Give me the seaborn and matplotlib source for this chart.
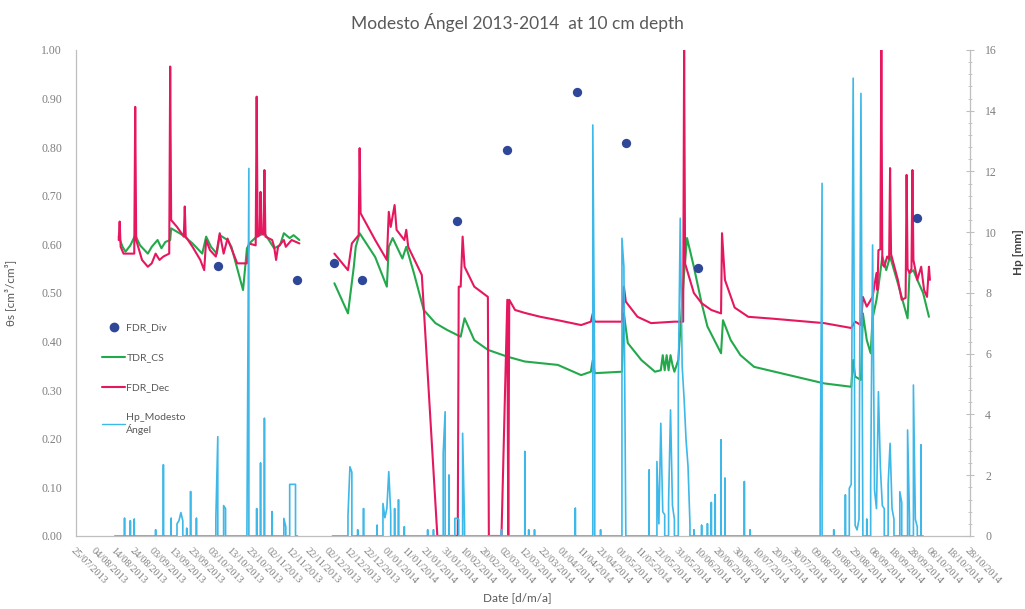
import pandas as pd
import numpy as np
import matplotlib
matplotlib.use('Agg')
import matplotlib.pyplot as plt
from matplotlib.lines import Line2D
from matplotlib.ticker import MultipleLocator, FormatStrFormatter
import seaborn as sns

# ---- data ----
# FDR_Dec (red), two logging periods
dec_dates_1 = ['2013-08-16', '2013-08-16 12:00', '2013-08-17', '2013-08-18 12:00', '2013-08-24',
               '2013-08-24 12:00', '2013-08-25', '2013-08-28', '2013-08-31', '2013-09-02',
               '2013-09-04', '2013-09-06', '2013-09-08', '2013-09-11', '2013-09-11 12:00',
               '2013-09-12', '2013-09-15', '2013-09-18 12:00', '2013-09-19', '2013-09-19 12:00',
               '2013-09-23', '2013-09-27', '2013-09-29', '2013-09-30', '2013-10-02',
               '2013-10-05', '2013-10-07', '2013-10-09', '2013-10-11', '2013-10-16',
               '2013-10-21', '2013-10-22', '2013-10-25 12:00', '2013-10-26', '2013-10-26 12:00',
               '2013-10-27 12:00', '2013-10-28', '2013-10-28 12:00', '2013-10-29 12:00', '2013-10-30',
               '2013-10-30 12:00', '2013-11-03', '2013-11-04', '2013-11-05', '2013-11-06',
               '2013-11-09', '2013-11-10', '2013-11-13', '2013-11-17']
dec_vals_1 = [0.609, 0.647, 0.595, 0.581, 0.581,
              0.883, 0.609, 0.568, 0.554, 0.561,
              0.581, 0.568, 0.575, 0.581, 0.966,
              0.650, 0.636, 0.616, 0.678, 0.616,
              0.595, 0.568, 0.547, 0.609, 0.588,
              0.575, 0.623, 0.581, 0.612, 0.561,
              0.561, 0.602, 0.598, 0.904, 0.616,
              0.620, 0.708, 0.623, 0.620, 0.753,
              0.616, 0.609, 0.595, 0.568, 0.595,
              0.609, 0.595, 0.609, 0.602]

dec_dates_2 = ['2013-12-05', '2013-12-12', '2013-12-14', '2013-12-17 12:00', '2013-12-18',
               '2013-12-18 12:00', '2013-12-26', '2014-01-01', '2014-01-02', '2014-01-03',
               '2014-01-05', '2014-01-06', '2014-01-10', '2014-01-11', '2014-01-12',
               '2014-01-19', '2014-01-27', '2014-02-06 12:00', '2014-02-07', '2014-02-08',
               '2014-02-09', '2014-02-10', '2014-02-15', '2014-02-22', '2014-02-22 12:00',
               '2014-03-01', '2014-03-04', '2014-03-04 12:00', '2014-03-05', '2014-03-08',
               '2014-03-13', '2014-03-21', '2014-03-30', '2014-04-11', '2014-04-16',
               '2014-04-17', '2014-04-18', '2014-05-02', '2014-05-03', '2014-05-04',
               '2014-05-10', '2014-05-17', '2014-05-29', '2014-06-02 12:00', '2014-06-03',
               '2014-06-03 12:00', '2014-06-04', '2014-06-08', '2014-06-12', '2014-06-17',
               '2014-06-22', '2014-06-22 12:00', '2014-06-24', '2014-06-29', '2014-07-06',
               '2014-07-19', '2014-08-14', '2014-08-28', '2014-08-30', '2014-09-02',
               '2014-09-03', '2014-09-05', '2014-09-08', '2014-09-10', '2014-09-10 12:00',
               '2014-09-11', '2014-09-12', '2014-09-12 12:00', '2014-09-13', '2014-09-14',
               '2014-09-15 12:00', '2014-09-16 12:00', '2014-09-17', '2014-09-17 12:00', '2014-09-21',
               '2014-09-23', '2014-09-25', '2014-09-25 12:00', '2014-09-26', '2014-09-27',
               '2014-09-28', '2014-09-28 12:00', '2014-09-29', '2014-10-01', '2014-10-03',
               '2014-10-04 12:00', '2014-10-06', '2014-10-07', '2014-10-07 12:00']
dec_vals_2 = [0.581, 0.547, 0.602, 0.619, 0.798,
              0.664, 0.609, 0.568, 0.667, 0.636,
              0.681, 0.630, 0.609, 0.630, 0.595,
              0.537, 0.000, 0.000, 0.513, 0.513,
              0.616, 0.554, 0.513, 0.492, 0.000,
              0.000, 0.486, 0.000, 0.486, 0.465,
              0.459, 0.451, 0.444, 0.434, 0.441,
              0.458, 0.441, 0.441, 0.513, 0.482,
              0.451, 0.438, 0.441, 0.441, 1.000,
              0.560, 0.554, 0.500, 0.479, 0.465,
              0.458, 0.623, 0.527, 0.470, 0.451,
              0.447, 0.438, 0.428, 0.441, 0.434,
              0.492, 0.472, 0.492, 0.541, 0.506,
              0.588, 0.590, 1.000, 0.560, 0.554,
              0.575, 0.570, 0.757, 0.580, 0.527,
              0.486, 0.490, 0.743, 0.550, 0.541,
              0.550, 0.753, 0.568, 0.527, 0.554,
              0.506, 0.492, 0.554, 0.527]

# TDR_CS (green)
cs_dates_1 = ['2013-08-16', '2013-08-18', '2013-08-19 12:00', '2013-08-22', '2013-08-24 12:00',
              '2013-08-27', '2013-08-31', '2013-09-02', '2013-09-05', '2013-09-07',
              '2013-09-09', '2013-09-11 12:00', '2013-09-12', '2013-09-15', '2013-09-18',
              '2013-09-23', '2013-09-28', '2013-09-30', '2013-10-02 12:00', '2013-10-05 12:00',
              '2013-10-07', '2013-10-11', '2013-10-13', '2013-10-19', '2013-10-21',
              '2013-10-23', '2013-10-26', '2013-10-30', '2013-11-04', '2013-11-07',
              '2013-11-09', '2013-11-12', '2013-11-14', '2013-11-17']
cs_vals_1 = [0.616, 0.595, 0.585, 0.598, 0.619,
             0.598, 0.581, 0.595, 0.609, 0.592,
             0.605, 0.609, 0.633, 0.626, 0.619,
             0.602, 0.581, 0.616, 0.595, 0.581,
             0.619, 0.609, 0.595, 0.506, 0.592,
             0.605, 0.616, 0.623, 0.592, 0.598,
             0.623, 0.613, 0.619, 0.609]

cs_dates_2 = ['2013-12-05', '2013-12-12', '2013-12-15', '2013-12-16', '2013-12-18',
              '2013-12-26', '2014-01-01', '2014-01-02', '2014-01-04', '2014-01-09',
              '2014-01-11', '2014-01-15', '2014-01-20', '2014-01-26', '2014-02-01',
              '2014-02-08', '2014-02-10', '2014-02-15', '2014-02-22', '2014-03-04',
              '2014-03-13', '2014-03-30', '2014-04-11', '2014-04-16', '2014-04-17',
              '2014-04-18', '2014-05-02', '2014-05-03', '2014-05-05', '2014-05-12',
              '2014-05-19', '2014-05-22', '2014-05-23', '2014-05-24', '2014-05-25',
              '2014-05-26', '2014-05-27', '2014-05-28', '2014-05-29', '2014-05-31',
              '2014-06-03', '2014-06-04 12:00', '2014-06-08', '2014-06-12', '2014-06-15',
              '2014-06-22', '2014-06-23', '2014-06-27', '2014-07-02', '2014-07-09',
              '2014-08-14', '2014-08-28', '2014-08-29', '2014-08-30', '2014-09-02',
              '2014-09-03', '2014-09-05', '2014-09-07', '2014-09-08', '2014-09-10',
              '2014-09-11', '2014-09-13', '2014-09-15', '2014-09-17', '2014-09-21',
              '2014-09-26', '2014-09-27', '2014-09-29', '2014-10-01', '2014-10-04',
              '2014-10-07']
cs_vals_2 = [0.520, 0.458, 0.554, 0.595, 0.623,
             0.574, 0.513, 0.595, 0.613, 0.571,
             0.595, 0.540, 0.465, 0.438, 0.424,
             0.410, 0.448, 0.403, 0.383, 0.369,
             0.359, 0.352, 0.331, 0.338, 0.362,
             0.335, 0.338, 0.458, 0.397, 0.362,
             0.338, 0.341, 0.372, 0.341, 0.372,
             0.341, 0.372, 0.352, 0.338, 0.362,
             0.541, 0.613, 0.554, 0.479, 0.431,
             0.376, 0.444, 0.403, 0.372, 0.348,
             0.314, 0.307, 0.362, 0.328, 0.321,
             0.458, 0.403, 0.376, 0.448, 0.486,
             0.513, 0.575, 0.547, 0.575, 0.520,
             0.448, 0.541, 0.547, 0.527, 0.500,
             0.451]

# FDR_Div (dots)
div_dates = ['2013-10-06', '2013-11-16', '2013-12-05', '2013-12-19', '2014-02-06',
             '2014-03-04', '2014-04-09', '2014-05-04', '2014-06-10', '2014-10-01']
div_vals = [0.556, 0.527, 0.561, 0.527, 0.648, 0.794, 0.914, 0.808, 0.551, 0.654]

# Hp_Modesto Ángel, daily rain [mm]; days not listed had 0 mm
hp_periods = [('2013-08-14', '2013-11-16'), ('2013-12-04', '2014-10-04')]
hp_dates = ['2013-08-19', '2013-08-22', '2013-08-24', '2013-09-04', '2013-09-08',
            '2013-09-12', '2013-09-15', '2013-09-16', '2013-09-17', '2013-09-18',
            '2013-09-20', '2013-09-22', '2013-09-25', '2013-10-05', '2013-10-06',
            '2013-10-09', '2013-10-10', '2013-10-21', '2013-10-22', '2013-10-26',
            '2013-10-28', '2013-10-30', '2013-11-03', '2013-11-09', '2013-11-10',
            '2013-11-12', '2013-11-13', '2013-11-14', '2013-11-15',
            '2013-12-12', '2013-12-13', '2013-12-14', '2013-12-17', '2013-12-20',
            '2013-12-27', '2013-12-30', '2013-12-31', '2014-01-01', '2014-01-02',
            '2014-01-03', '2014-01-05', '2014-01-07', '2014-01-10', '2014-01-22',
            '2014-01-25', '2014-01-30', '2014-01-31', '2014-02-02', '2014-02-05',
            '2014-02-06', '2014-02-07', '2014-02-09', '2014-02-10', '2014-03-01',
            '2014-03-13', '2014-03-15', '2014-03-18', '2014-04-08', '2014-04-17',
            '2014-04-18', '2014-04-21', '2014-05-02', '2014-05-03', '2014-05-04',
            '2014-05-16', '2014-05-20', '2014-05-21', '2014-05-22', '2014-05-23',
            '2014-05-24', '2014-05-26', '2014-05-27', '2014-05-28', '2014-05-29',
            '2014-05-31', '2014-06-01', '2014-06-02', '2014-06-03', '2014-06-04',
            '2014-06-05', '2014-06-06', '2014-06-08', '2014-06-12', '2014-06-15',
            '2014-06-17', '2014-06-19', '2014-06-22', '2014-06-24', '2014-07-04',
            '2014-07-07', '2014-08-12', '2014-08-13', '2014-08-19', '2014-08-25',
            '2014-08-27', '2014-08-28', '2014-08-29', '2014-08-30', '2014-08-31',
            '2014-09-01', '2014-09-02', '2014-09-03', '2014-09-05', '2014-09-07',
            '2014-09-08', '2014-09-09', '2014-09-10', '2014-09-11', '2014-09-12',
            '2014-09-13', '2014-09-14', '2014-09-16', '2014-09-17', '2014-09-18',
            '2014-09-19', '2014-09-22', '2014-09-23', '2014-09-26', '2014-09-27',
            '2014-09-29', '2014-09-30', '2014-10-01', '2014-10-03']
hp_mm = [0.58, 0.50, 0.55, 0.20, 2.34,
         0.58, 0.40, 0.50, 0.77, 0.50,
         0.25, 1.46, 0.58, 0.58, 3.27,
         1.00, 0.90, 0.20, 12.10, 0.90,
         2.40, 3.87, 0.80, 0.58, 0.30,
         1.70, 1.70, 1.70, 1.70,
         0.66, 2.28, 2.10, 0.20, 0.90,
         0.35, 1.07, 0.60, 0.90, 2.12,
         0.75, 0.90, 1.19, 0.30, 0.20,
         0.20, 2.72, 4.09, 2.00, 0.58,
         0.58, 0.55, 3.38, 0.35, 0.20,
         2.78, 0.20, 0.20, 0.91, 13.53,
         5.00, 0.20, 9.80, 8.87, 0.30,
         2.17, 2.45, 0.40, 3.71, 0.80,
         0.70, 1.10, 4.15, 1.00, 0.55,
         5.02, 10.46, 5.58, 4.50, 3.16,
         2.30, 0.40, 0.20, 0.35, 0.40,
         1.10, 1.36, 3.16, 1.90, 1.79,
         0.20, 1.40, 11.61, 0.20, 1.35,
         1.57, 1.70, 15.07, 0.35, 0.20,
         0.55, 14.57, 0.30, 0.55, 1.70,
         9.58, 1.50, 0.90, 4.75, 2.25,
         1.00, 0.90, 1.70, 3.05, 0.90,
         0.55, 1.46, 1.10, 3.49, 0.55,
         4.97, 0.55, 0.30, 3.00]

x_start, x_end = '2013-07-25', '2014-10-28'

# ---- build tables ----
def segments(parts):
    frames = []
    for k, (d, v) in enumerate(parts):
        frames.append(pd.DataFrame({'date': pd.to_datetime(d, format='ISO8601'),
                                    'value': v, 'seg': k}))
    return pd.concat(frames, ignore_index=True)

dec_df = segments([(dec_dates_1, dec_vals_1), (dec_dates_2, dec_vals_2)])
cs_df = segments([(cs_dates_1, cs_vals_1), (cs_dates_2, cs_vals_2)])
div_df = pd.DataFrame({'date': pd.to_datetime(div_dates), 'value': div_vals})

# rain as narrow spikes rising straight up from the zero line
rain = pd.Series(hp_mm, index=pd.to_datetime(hp_dates))
hp_rows = []
for k, (a, b) in enumerate(hp_periods):
    days = pd.date_range(a, b, freq='D')
    s = rain.reindex(days, fill_value=0.0).values
    for i, d in enumerate(days):
        v = s[i]
        if v > 0:
            if i == 0 or s[i - 1] == 0:
                hp_rows.append((d, 0.0, k))
            hp_rows.append((d, v, k))
            if i == len(days) - 1 or s[i + 1] == 0:
                hp_rows.append((d, 0.0, k))
        else:
            hp_rows.append((d, 0.0, k))
hp_df = pd.DataFrame(hp_rows, columns=['date', 'mm', 'seg'])

# ---- plot ----
sns.set_style('white')
plt.rcParams['font.family'] = ['Lato', 'DejaVu Sans']

RED = '#E5185F'
GREEN = '#23A94B'
BLUE = '#3DB8E8'
NAVY = '#2E4799'
GREY = '#7F7F7F'
AXC = '#BFBFBF'

fig = plt.figure(figsize=(10.25, 6.09), dpi=100)
ax = fig.add_axes([0.0741, 0.1199, 0.872, 0.798])
ax2 = ax.twinx()

sns.lineplot(data=cs_df, x='date', y='value', units='seg', estimator=None,
             color=GREEN, lw=1.5, ax=ax, legend=False)
sns.lineplot(data=dec_df, x='date', y='value', units='seg', estimator=None,
             color=RED, lw=1.5, ax=ax, legend=False)
sns.scatterplot(data=div_df, x='date', y='value', color=NAVY, s=45,
                linewidth=0, ax=ax, zorder=5, legend=False)
sns.lineplot(data=hp_df, x='date', y='mm', units='seg', estimator=None, sort=False,
             color=BLUE, lw=1.2, ax=ax2, legend=False)

ax.set_xlim(pd.Timestamp(x_start), pd.Timestamp(x_end))
ax.set_ylim(0, 1.0)
ax2.set_ylim(0, 16)

ticks = pd.date_range(x_start, x_end, freq='10D')
ax.set_xticks(ticks)
ax.set_xticklabels([t.strftime('%d/%m/%Y') for t in ticks], rotation=-45,
                   ha='left', va='top', rotation_mode='anchor')
ax.tick_params(axis='x', length=0, pad=7, labelsize=7.5, labelcolor=GREY)

ax.yaxis.set_major_locator(MultipleLocator(0.1))
ax.yaxis.set_major_formatter(FormatStrFormatter('%.2f'))
ax.tick_params(axis='y', length=0, pad=10, labelsize=8.5, labelcolor=GREY)

ax2.yaxis.set_major_locator(MultipleLocator(2))
ax2.yaxis.set_minor_locator(MultipleLocator(0.4))
ax2.tick_params(axis='y', which='major', direction='inout', length=6, width=0.8,
                color=AXC, pad=8, labelsize=8.5, labelcolor=GREY)
ax2.tick_params(axis='y', which='minor', direction='inout', length=3, width=0.6, color=AXC)

for lab in ax.get_xticklabels() + ax.get_yticklabels() + ax2.get_yticklabels():
    lab.set_fontfamily(['Liberation Serif', 'DejaVu Serif'])

for a in (ax, ax2):
    a.spines['top'].set_visible(False)
    for sp in ('left', 'right', 'bottom'):
        a.spines[sp].set_color(AXC)
        a.spines[sp].set_linewidth(0.9)
ax.spines['right'].set_visible(False)
ax2.spines['left'].set_visible(False)
ax2.spines['bottom'].set_visible(False)
ax.grid(False)
ax2.grid(False)

ax.set_xlabel('')
ax.set_ylabel('θs [cm³/cm³]', color='#595959', fontsize=8.5)
ax.yaxis.set_label_coords(-0.067, 0.5)
ax2.set_ylabel('Hp [mm]', color='#404040', fontsize=8.5, fontweight='bold', rotation=90)
ax2.yaxis.set_label_coords(1.048, 0.584)

fig.text(0.505, 0.963, 'Modesto Ángel 2013-2014  at 10 cm depth', ha='center', va='center',
         fontsize=12.5, color='#595959')
fig.text(0.505, 0.018, 'Date [d/m/a]', ha='center', va='center', fontsize=8.5, color='#595959')

handles = [
    Line2D([], [], marker='o', ls='none', color=NAVY, markersize=6),
    Line2D([], [], color=GREEN, lw=1.5),
    Line2D([], [], color=RED, lw=1.5),
    Line2D([], [], color=BLUE, lw=1.0),
]
labels = ['FDR_Div', 'TDR_CS', 'FDR_Dec', 'Hp_Modesto\nÁngel']
leg = ax.legend(handles, labels, loc='upper left', bbox_to_anchor=(0.025, 0.447),
                frameon=False, fontsize=7.5, labelspacing=2.0, handlelength=2.2,
                handletextpad=0.1, borderaxespad=0)
for t in leg.get_texts():
    t.set_color('#595959')

fig.savefig('out.png', dpi=100)
